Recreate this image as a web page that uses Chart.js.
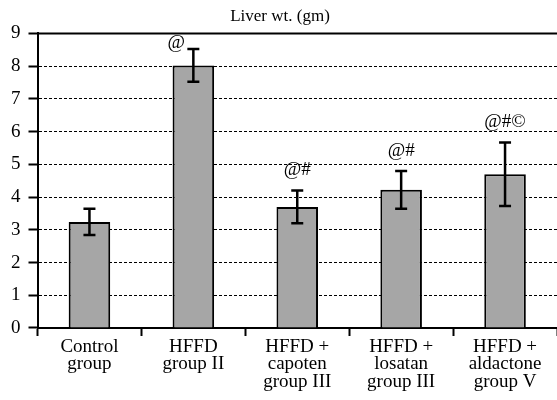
<!DOCTYPE html>
<html>
<head>
<meta charset="utf-8">
<script src="https://cdn.jsdelivr.net/npm/chart.js@4"></script>
<style>
  html, body { margin: 0; padding: 0; background: #fff; }
  #wrap { width: 557px; height: 400px; }
</style>
</head>
<body>
<div id="wrap"><canvas id="chart"></canvas></div>
<script>
const groups = [
  ['Control', 'group'],
  ['HFFD', 'group II'],
  ['HFFD +', 'capoten', 'group III'],
  ['HFFD +', 'losatan', 'group III'],
  ['HFFD +', 'aldactone', 'group V']
];
const liverWt = [3.24, 8.02, 3.70, 4.22, 4.70];
const liverSd = [0.40, 0.50, 0.50, 0.58, 0.97];
const marks = ['', '@', '@#', '@#', '@#©'];
const yTicks = [0, 1, 2, 3, 4, 5, 6, 7, 8, 9];

const serif = 'Liberation Serif';

// error bars + significance marks
const errorBars = {
  id: 'errorBars',
  afterDatasetsDraw(chart) {
    const ctx = chart.ctx;
    const y = chart.scales.y;
    const meta = chart.getDatasetMeta(0);
    const area = chart.chartArea;
    ctx.save();
    // solid frame line at top
    ctx.strokeStyle = '#000';
    ctx.lineWidth = 2;
    ctx.beginPath();
    ctx.moveTo(area.left, y.getPixelForValue(9));
    ctx.lineTo(area.right, y.getPixelForValue(9));
    ctx.stroke();

    meta.data.forEach((bar, i) => {
      const hi = y.getPixelForValue(liverWt[i] + liverSd[i]);
      const lo = y.getPixelForValue(liverWt[i] - liverSd[i]);
      ctx.lineWidth = 2.5;
      ctx.beginPath();
      ctx.moveTo(bar.x, hi); ctx.lineTo(bar.x, lo);
      ctx.moveTo(bar.x - 6, hi); ctx.lineTo(bar.x + 6, hi);
      ctx.moveTo(bar.x - 6, lo); ctx.lineTo(bar.x + 6, lo);
      ctx.stroke();
      if (marks[i]) {
        ctx.font = '19px "' + serif + '"';
        ctx.fillStyle = '#000';
        ctx.textAlign = 'center';
        ctx.textBaseline = 'middle';
        const dx = i === 1 ? -17 : 0;
        ctx.fillText(marks[i], bar.x + dx, Math.max(hi - 20, area.top + 10));
      }
    });
    ctx.restore();
  }
};

new Chart(document.getElementById('chart'), {
  type: 'bar',
  data: {
    labels: groups,
    datasets: [{
      data: liverWt,
      backgroundColor: '#a6a6a6',
      borderColor: '#000',
      borderWidth: 2,
      barPercentage: 0.4,
      categoryPercentage: 1
    }]
  },
  options: {
    responsive: true,
    maintainAspectRatio: false,
    animation: false,
    layout: { padding: { left: 3, right: 0, top: 0, bottom: 7 } },
    plugins: {
      legend: { display: false },
      tooltip: { enabled: false },
      title: {
        display: true,
        text: 'Liver wt. (gm)',
        color: '#000',
        font: { family: serif, size: 17, weight: 'normal', lineHeight: 1.2 },
        padding: { top: 6, bottom: 7 }
      }
    },
    scales: {
      x: {
        grid: {
          offset: true,
          drawOnChartArea: false,
          tickLength: 8,
          tickColor: '#000',
          tickWidth: 2
        },
        border: { color: '#000', width: 2 },
        ticks: {
          color: '#000',
          padding: 2,
          maxRotation: 0,
          font: { family: serif, size: 19, lineHeight: 0.93 }
        }
      },
      y: {
        min: 0,
        max: 9,
        afterBuildTicks: (s) => { s.ticks = yTicks.map(v => ({ value: v })); },
        grid: {
          color: (c) => (c.tick && (c.tick.value === 9 || c.tick.value === 0)) ? 'rgba(0,0,0,0)' : '#000',
          lineWidth: 1,
          tickLength: 9,
          tickColor: '#000',
          tickWidth: 2
        },
        border: { color: '#000', width: 2, dash: [3, 2] },
        ticks: {
          color: '#000',
          padding: 8,
          font: { family: serif, size: 19 }
        }
      }
    }
  },
  plugins: [errorBars]
});
</script>
</body>
</html>
